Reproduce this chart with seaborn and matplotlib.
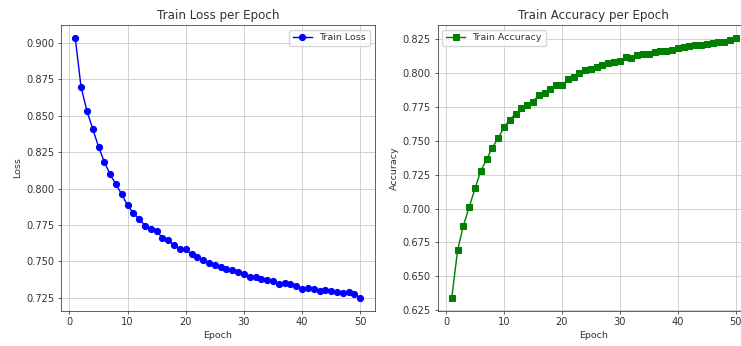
import numpy as np
import pandas as pd
import matplotlib
matplotlib.use("Agg")
import matplotlib.pyplot as plt
import seaborn as sns

epochs = list(range(1, 51))
train_loss = [0.9034, 0.8697, 0.8534, 0.8410, 0.8288, 0.8182, 0.8097, 0.8028, 0.7960, 0.7884,
              0.7831, 0.7790, 0.7746, 0.7721, 0.7709, 0.7659, 0.7645, 0.7610, 0.7583, 0.7583,
              0.7548, 0.7532, 0.7507, 0.7486, 0.7475, 0.7463, 0.7445, 0.7440, 0.7427, 0.7415,
              0.7394, 0.7394, 0.7376, 0.7369, 0.7365, 0.7342, 0.7349, 0.7342, 0.7331, 0.7312,
              0.7314, 0.7307, 0.7296, 0.7303, 0.7296, 0.7289, 0.7284, 0.7287, 0.7273, 0.7250]
train_acc = [0.6341, 0.6692, 0.6874, 0.7010, 0.7148, 0.7277, 0.7363, 0.7450, 0.7521, 0.7600,
             0.7657, 0.7699, 0.7741, 0.7768, 0.7786, 0.7840, 0.7852, 0.7884, 0.7909, 0.7909,
             0.7956, 0.7973, 0.8003, 0.8020, 0.8033, 0.8045, 0.8062, 0.8075, 0.8082, 0.8090,
             0.8119, 0.8114, 0.8134, 0.8139, 0.8144, 0.8156, 0.8161, 0.8164, 0.8173, 0.8188,
             0.8193, 0.8198, 0.8206, 0.8210, 0.8213, 0.8223, 0.8230, 0.8228, 0.8243, 0.8260]

s = 0.68
plt.rcParams.update({
    "font.family": ["DejaVu Sans"],
    "font.size": 10 * s,
    "axes.titlesize": 8.6,
    "axes.labelsize": 10 * s,
    "xtick.labelsize": 7.1,
    "ytick.labelsize": 7.1,
    "legend.fontsize": 10 * s,
    "axes.linewidth": 0.8 * s,
    "xtick.major.width": 0.8 * s,
    "ytick.major.width": 0.8 * s,
    "xtick.major.size": 3.5 * s,
    "ytick.major.size": 3.5 * s,
    "xtick.major.pad": 3.5 * s,
    "ytick.major.pad": 3.5 * s,
    "grid.linewidth": 0.8 * s,
    "grid.color": "#c4c4c4",
    "axes.edgecolor": "#333333",
    "text.color": "#333333",
    "axes.labelcolor": "#333333",
    "xtick.color": "#333333",
    "ytick.color": "#333333",
    "axes.titlepad": 6 * s,
    "axes.labelpad": 4 * s,
})

df = pd.DataFrame({"Epoch": epochs, "Loss": train_loss, "Accuracy": train_acc})

fig = plt.figure(figsize=(7.41, 3.46), dpi=100)
ax1 = fig.add_axes([61 / 741, 1 - 310.7 / 346, 313.5 / 741, 285.7 / 346])
ax2 = fig.add_axes([437.6 / 741, 1 - 310.7 / 346, 312.4 / 741, 285.7 / 346])

sns.lineplot(data=df, x="Epoch", y="Loss", marker="o", color="blue", label="Train Loss",
             ax=ax1, linewidth=1.5 * s, markersize=6.5 * s, markeredgecolor="blue")
ax1.set_title("Train Loss per Epoch")
ax1.set_xlabel("Epoch")
ax1.set_ylabel("Loss")
ax1.grid(True)
ax1.legend(loc="upper right")

sns.lineplot(data=df, x="Epoch", y="Accuracy", marker="s", color="green", label="Train Accuracy",
             ax=ax2, linewidth=1.5 * s, markersize=6 * s, markeredgecolor="green")
ax2.set_title("Train Accuracy per Epoch")
ax2.set_xlabel("Epoch")
ax2.set_ylabel("Accuracy")
ax2.grid(True)
ax2.legend(loc="upper left")

fig.savefig("out.png", dpi=100)
